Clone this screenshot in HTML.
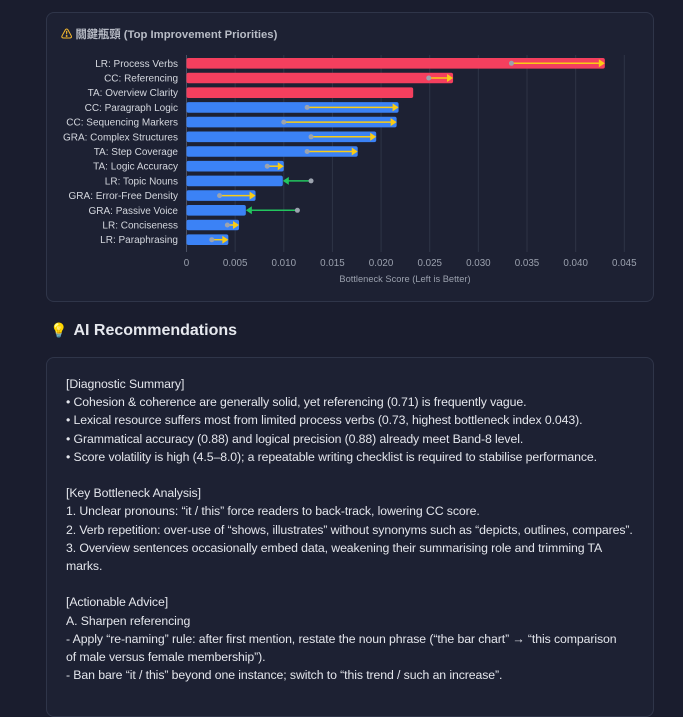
<!DOCTYPE html>
<html><head><meta charset="utf-8"><style>
body{margin:0;width:683px;height:700px;background:#1a1d2e;font-family:"Liberation Sans","Noto Sans CJK TC",sans-serif;overflow:hidden;position:relative}
.card{position:absolute;border:1px solid #2f3549;border-radius:8px;background:#1d2133;box-sizing:border-box}
#chart-card{left:46px;top:12px;width:608px;height:290px}
#rec-card{left:46px;top:357px;width:608px;height:360px}
.h{position:absolute;left:50px;top:322px;font-size:16px;font-weight:bold;color:#e6e8ee;white-space:nowrap}
.h .t{display:inline-block;margin-left:6px}
.txt{position:absolute;left:66px;top:375px;font-size:12.3px;line-height:18.2px;color:#e4e6ec;white-space:pre;letter-spacing:-0.1px}
</style></head><body>
<div class="card" id="chart-card"></div>
<svg id="chart" width="683" height="310" style="position:absolute;left:0;top:0">
<text x="61" y="38" font-size="11.3" font-weight="bold" fill="#b8bcc6" font-family="Liberation Sans, Noto Sans CJK TC, sans-serif"><tspan fill="#f5b82e">⚠</tspan> 關鍵瓶頸 (Top Improvement Priorities)</text>
<g id="grid"></g><g id="bars"></g><g id="labels"></g><g id="ticks"></g>
<text x="405" y="282" font-size="9.3" fill="#9aa0ad" text-anchor="middle">Bottleneck Score (Left is Better)</text>
</svg>
<div class="h"><span style="color:#f5c02e;font-size:14px">💡</span><span class="t">AI Recommendations</span></div>
<div class="card" id="rec-card"></div>
<div class="txt">[Diagnostic Summary]
• Cohesion &amp; coherence are generally solid, yet referencing (0.71) is frequently vague.
• Lexical resource suffers most from limited process verbs (0.73, highest bottleneck index 0.043).
• Grammatical accuracy (0.88) and logical precision (0.88) already meet Band-8 level.
• Score volatility is high (4.5–8.0); a repeatable writing checklist is required to stabilise performance.

[Key Bottleneck Analysis]
1. Unclear pronouns: “it / this” force readers to back-track, lowering CC score.
2. Verb repetition: over-use of “shows, illustrates” without synonyms such as “depicts, outlines, compares”.
3. Overview sentences occasionally embed data, weakening their summarising role and trimming TA
marks.

[Actionable Advice]
A. Sharpen referencing
- Apply “re-naming” rule: after first mention, restate the noun phrase (“the bar chart” → “this comparison
of male versus female membership”).
- Ban bare “it / this” beyond one instance; switch to “this trend / such an increase”.</div>
<script>
const categories=["LR: Process Verbs","CC: Referencing","TA: Overview Clarity","CC: Paragraph Logic","CC: Sequencing Markers","GRA: Complex Structures","TA: Step Coverage","TA: Logic Accuracy","LR: Topic Nouns","GRA: Error-Free Density","GRA: Passive Voice","LR: Conciseness","LR: Paraphrasing"];
const currentValues=[0.0430,0.0274,0.0233,0.0218,0.0216,0.0195,0.0176,0.0100,0.0099,0.0071,0.0061,0.0054,0.0043];
const previousValues=[0.0334,0.0249,null,0.0124,0.0100,0.0128,0.0124,0.0083,0.0128,0.0034,0.0114,0.0042,0.0026];
const critical=[true,true,true,false,false,false,false,false,false,false,false,false,false];
const tickValues=[0,0.005,0.010,0.015,0.020,0.025,0.030,0.035,0.040,0.045];
const tickLabels=["0","0.005","0.010","0.015","0.020","0.025","0.030","0.035","0.040","0.045"];
const NS="http://www.w3.org/2000/svg";
const x0=186.5,x1=624.3,xmax=0.045;
function xs(v){return x0+(v/xmax)*(x1-x0);}
function ys(i){return 63.3+i*14.7;}
function mk(t,a,p){const e=document.createElementNS(NS,t);for(const k in a)e.setAttribute(k,a[k]);p.appendChild(e);return e;}
const g=document.getElementById('grid'),b=document.getElementById('bars'),l=document.getElementById('labels'),tk=document.getElementById('ticks');
tickValues.forEach((v,i)=>{
 const ln=mk('line',{x1:xs(v),x2:xs(v),y1:55,y2:252,stroke:i==0?'#4a5063':'#2e3446','stroke-width':1},g);
 
 
 const t=mk('text',{x:xs(v),y:266,'font-size':9.8,fill:'#9aa0ad','text-anchor':'middle'},tk);
 t.textContent=tickLabels[i];
 
 
});
categories.forEach((c,i)=>{
 const y=ys(i);
 const t=mk('text',{x:178,y:y+3.5,'font-size':10,fill:'#d4d7de','text-anchor':'end'},l);
 t.textContent=c;
 
 
 const r=mk('rect',{x:x0,y:y-5.3,width:xs(currentValues[i])-x0,height:10.6,rx:2,fill:critical[i]?'#f43f5e':'#3b82f6'},b);
 
 
 const p=previousValues[i];
 if(p!==null){
  const cx=xs(currentValues[i]),px=xs(p),up=currentValues[i]>p,col=up?'#facc15':'#22c55e';
  const dir=up?1:-1;
  const ln=mk('line',{x1:px,x2:cx-dir*3,y1:y,y2:y,stroke:col,'stroke-width':1.5},b);
  
  
  const h=mk('polygon',{points:`${cx},${y} ${cx-dir*6},${y-4} ${cx-dir*6},${y+4}`,fill:col},b);
  
  
  const d=mk('circle',{cx:px,cy:y,r:2.5,fill:'#9ca3af'},b);
  
  
 }
});
</script>
</body></html>
